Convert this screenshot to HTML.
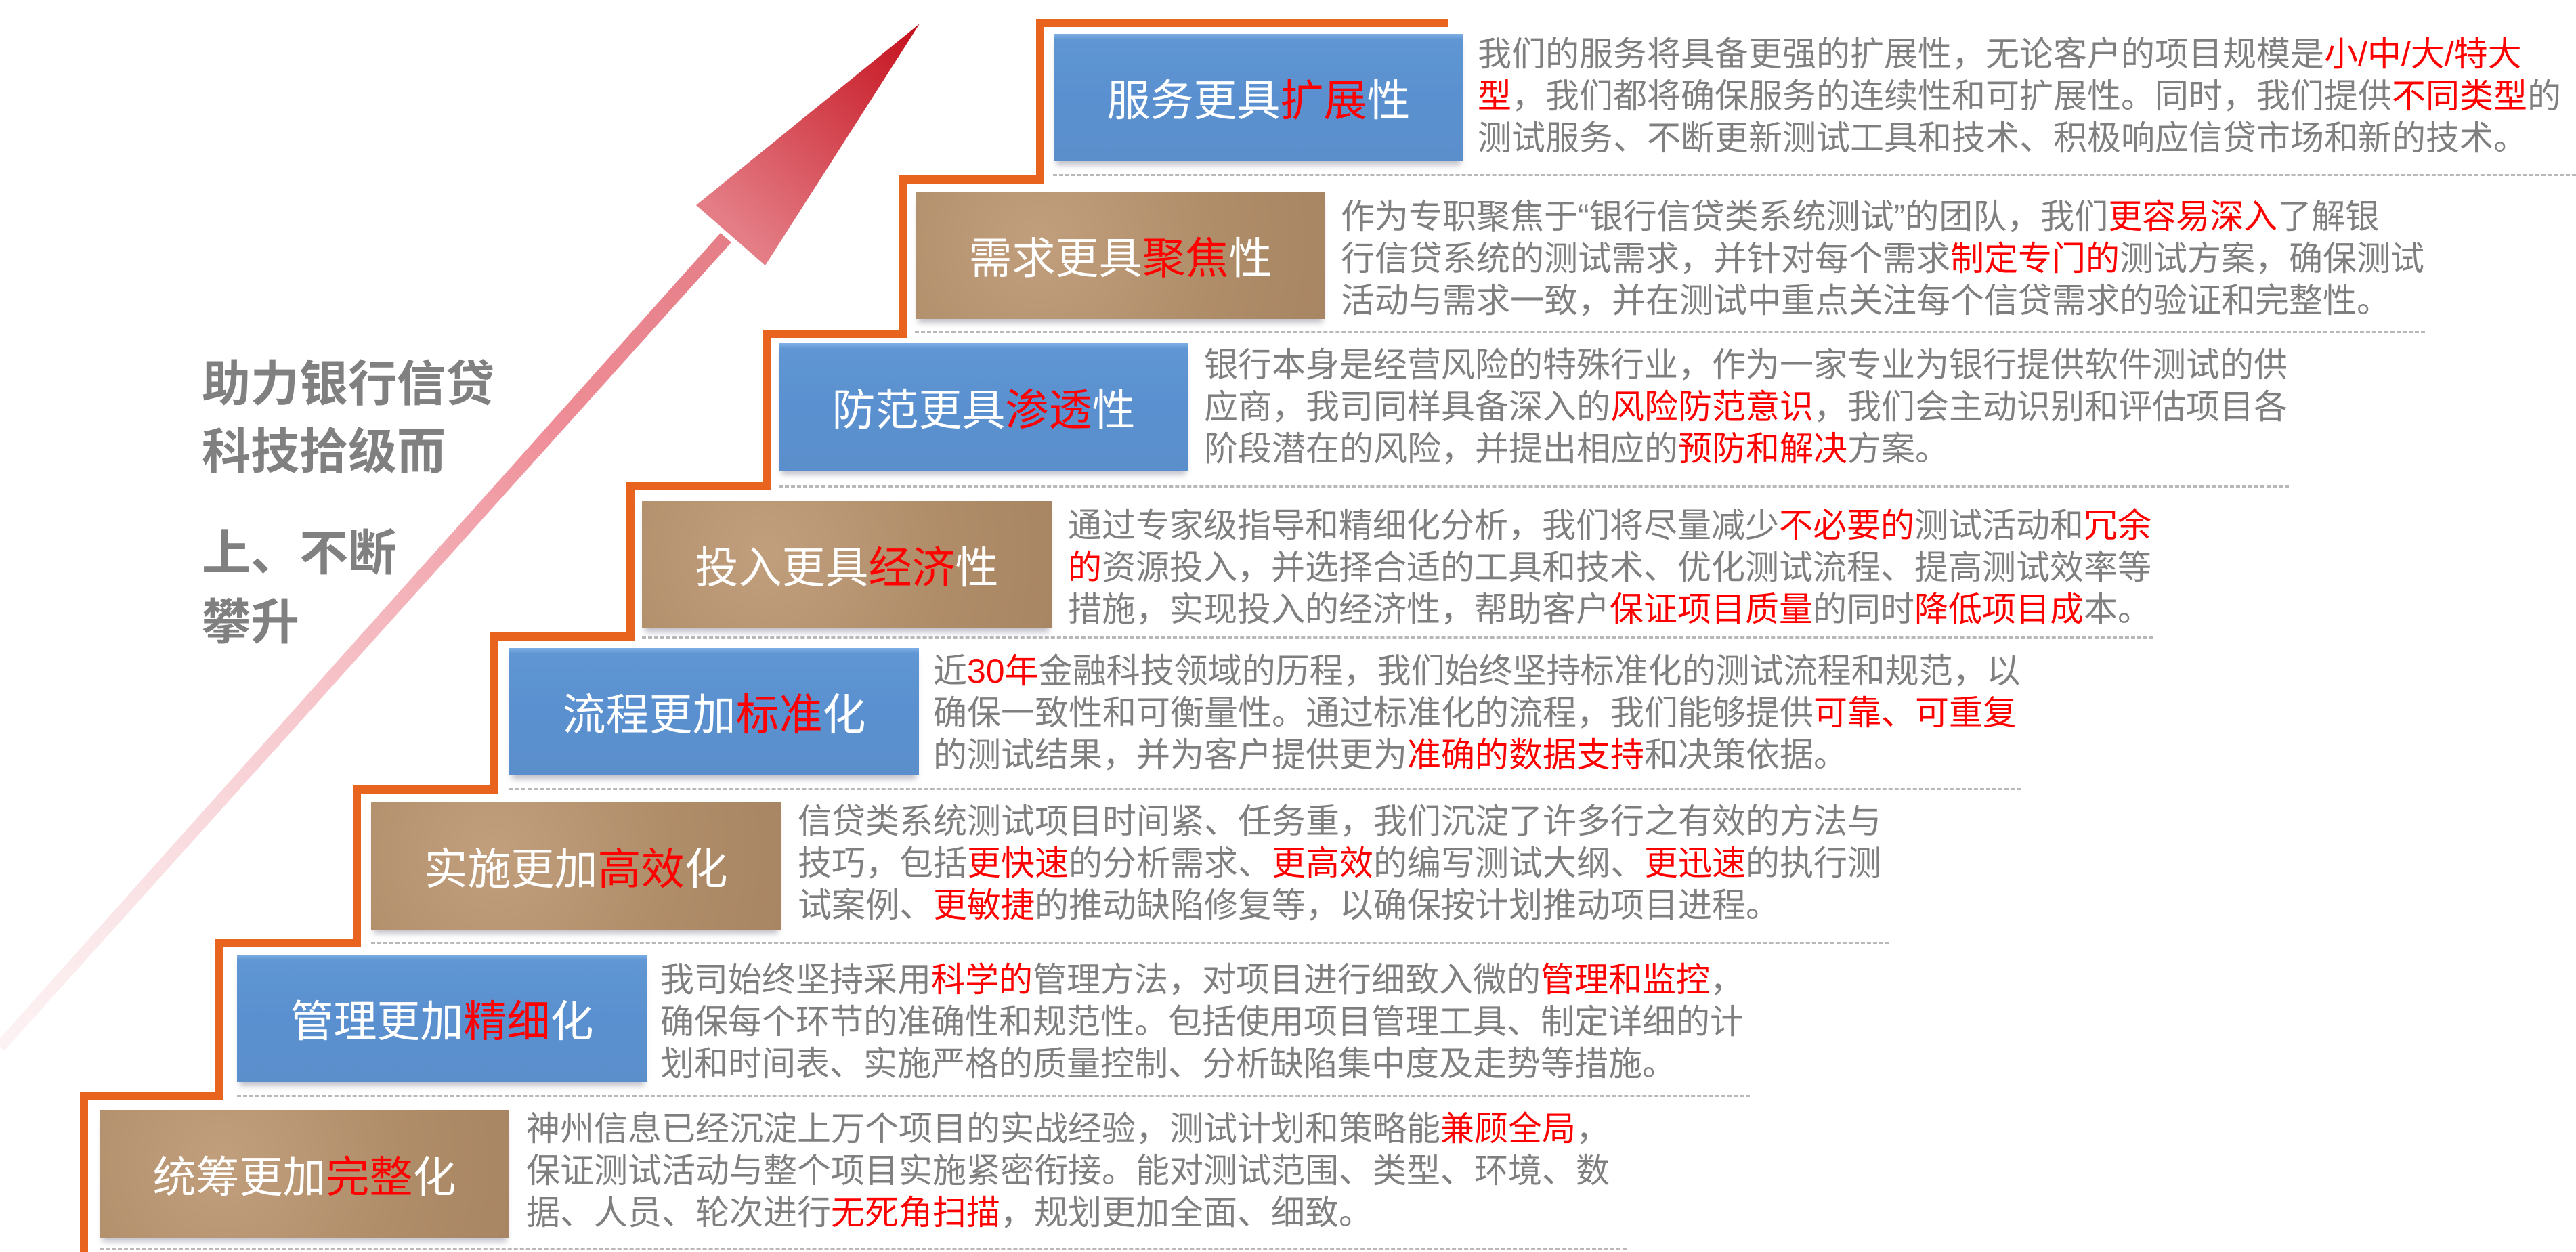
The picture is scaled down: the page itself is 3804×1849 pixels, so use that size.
<!DOCTYPE html>
<html><head><meta charset="utf-8"><style>
html,body{margin:0;padding:0;background:#fff;}
body{width:3804px;height:1849px;position:relative;overflow:hidden;font-family:"Liberation Sans","Noto Sans CJK SC",sans-serif;}
.box{position:absolute;width:605px;height:188px;display:flex;align-items:center;justify-content:center;color:#fff;font-size:64px;white-space:nowrap;box-shadow:0 10px 8px -4px rgba(120,120,140,0.45);}
.blue{background:linear-gradient(180deg,#7fb0e6 0px,#5f96d3 8px,#5a90cf 50%,#5b8fcc 100%);}
.brown{background:radial-gradient(circle at 30% 40%,#c19f7d 0,#b08d69 60%,#a88563 100%);}
.r{color:#ff0000;}
.t{position:absolute;font-size:50px;color:#7f7f7f;line-height:62px;white-space:nowrap;}
.d{position:absolute;height:0;border-top:3px dashed #b8b8b8;}
.lt{position:absolute;left:298px;font-size:72px;font-weight:bold;color:#808080;white-space:nowrap;}
</style></head><body>
<svg width="3804" height="1849" style="position:absolute;left:0;top:0">
<defs>
<linearGradient id="ag" x1="0" y1="1549" x2="1358" y2="35" gradientUnits="userSpaceOnUse">
<stop offset="0" stop-color="#f6d6da" stop-opacity="0.3"/>
<stop offset="0.6" stop-color="#ef8e98"/>
<stop offset="0.8" stop-color="#e47d86"/>
<stop offset="1" stop-color="#c4101c"/>
</linearGradient>
</defs>
<polygon points="-6,1540 6,1552 1080,358 1064,344" fill="url(#ag)"/>
<polygon points="1358,35 1028,303 1130,392" fill="url(#ag)"/>
<polyline points="124,1849 124,1618 324,1618 324,1393 527,1393 527,1166 729,1166 729,940 931,940 931,718 1133,718 1133,493 1334,493 1334,265 1536,265 1536,34 2138,34" fill="none" stroke="#e8641e" stroke-width="12"/>
</svg>

<div class="lt" style="top:508px">助力银行信贷</div>
<div class="lt" style="top:608px">科技拾级而</div>
<div class="lt" style="top:758px">上、不断</div>
<div class="lt" style="top:860px">攀升</div>

<div class="box blue" style="left:1556px;top:50px">服务更具<span class="r">扩展</span>性</div>
<div class="box brown" style="left:1352px;top:283px">需求更具<span class="r">聚焦</span>性</div>
<div class="box blue" style="left:1150px;top:507px">防范更具<span class="r">渗透</span>性</div>
<div class="box brown" style="left:948px;top:740px">投入更具<span class="r">经济</span>性</div>
<div class="box blue" style="left:752px;top:957px">流程更加<span class="r">标准</span>化</div>
<div class="box brown" style="left:548px;top:1185px">实施更加<span class="r">高效</span>化</div>
<div class="box blue" style="left:350px;top:1410px">管理更加<span class="r">精细</span>化</div>
<div class="box brown" style="left:147px;top:1640px">统筹更加<span class="r">完整</span>化</div>

<div class="t" style="left:2182px;top:49px">我们的服务将具备更强的扩展性，无论客户的项目规模是<span class="r">小/中/大/特大</span><br><span class="r">型</span>，我们都将确保服务的连续性和可扩展性。同时，我们提供<span class="r">不同类型</span>的<br>测试服务、不断更新测试工具和技术、积极响应信贷市场和新的技术。</div>
<div class="t" style="left:1980px;top:289px">作为专职聚焦于“银行信贷类系统测试”的团队，我们<span class="r">更容易深入</span>了解银<br>行信贷系统的测试需求，并针对每个需求<span class="r">制定专门的</span>测试方案，确保测试<br>活动与需求一致，并在测试中重点关注每个信贷需求的验证和完整性。</div>
<div class="t" style="left:1778px;top:508px">银行本身是经营风险的特殊行业，作为一家专业为银行提供软件测试的供<br>应商，我司同样具备深入的<span class="r">风险防范意识</span>，我们会主动识别和评估项目各<br>阶段潜在的风险，并提出相应的<span class="r">预防和解决</span>方案。</div>
<div class="t" style="left:1577px;top:745px">通过专家级指导和精细化分析，我们将尽量减少<span class="r">不必要的</span>测试活动和<span class="r">冗余</span><br><span class="r">的</span>资源投入，并选择合适的工具和技术、优化测试流程、提高测试效率等<br>措施，实现投入的经济性，帮助客户<span class="r">保证项目质量</span>的同时<span class="r">降低项目成</span>本。</div>
<div class="t" style="left:1378px;top:960px">近<span class="r">30年</span>金融科技领域的历程，我们始终坚持标准化的测试流程和规范，以<br>确保一致性和可衡量性。通过标准化的流程，我们能够提供<span class="r">可靠、可重复</span><br>的测试结果，并为客户提供更为<span class="r">准确的数据支持</span>和决策依据。</div>
<div class="t" style="left:1178px;top:1182px">信贷类系统测试项目时间紧、任务重，我们沉淀了许多行之有效的方法与<br>技巧，包括<span class="r">更快速</span>的分析需求、<span class="r">更高效</span>的编写测试大纲、<span class="r">更迅速</span>的执行测<br>试案例、<span class="r">更敏捷</span>的推动缺陷修复等，以确保按计划推动项目进程。</div>
<div class="t" style="left:975px;top:1416px">我司始终坚持采用<span class="r">科学的</span>管理方法，对项目进行细致入微的<span class="r">管理和监控</span>，<br>确保每个环节的准确性和规范性。包括使用项目管理工具、制定详细的计<br>划和时间表、实施严格的质量控制、分析缺陷集中度及走势等措施。</div>
<div class="t" style="left:777px;top:1636px">神州信息已经沉淀上万个项目的实战经验，测试计划和策略能<span class="r">兼顾全局</span>，<br>保证测试活动与整个项目实施紧密衔接。能对测试范围、类型、环境、数<br>据、人员、轮次进行<span class="r">无死角扫描</span>，规划更加全面、细致。</div>

<div class="d" style="left:1555px;top:257px;width:2249px"></div>
<div class="d" style="left:1351px;top:489px;width:2230px"></div>
<div class="d" style="left:1150px;top:717px;width:2230px"></div>
<div class="d" style="left:948px;top:940px;width:2232px"></div>
<div class="d" style="left:752px;top:1164px;width:2232px"></div>
<div class="d" style="left:548px;top:1391px;width:2242px"></div>
<div class="d" style="left:350px;top:1617px;width:2234px"></div>
<div class="d" style="left:147px;top:1843px;width:2255px"></div>
</body></html>
